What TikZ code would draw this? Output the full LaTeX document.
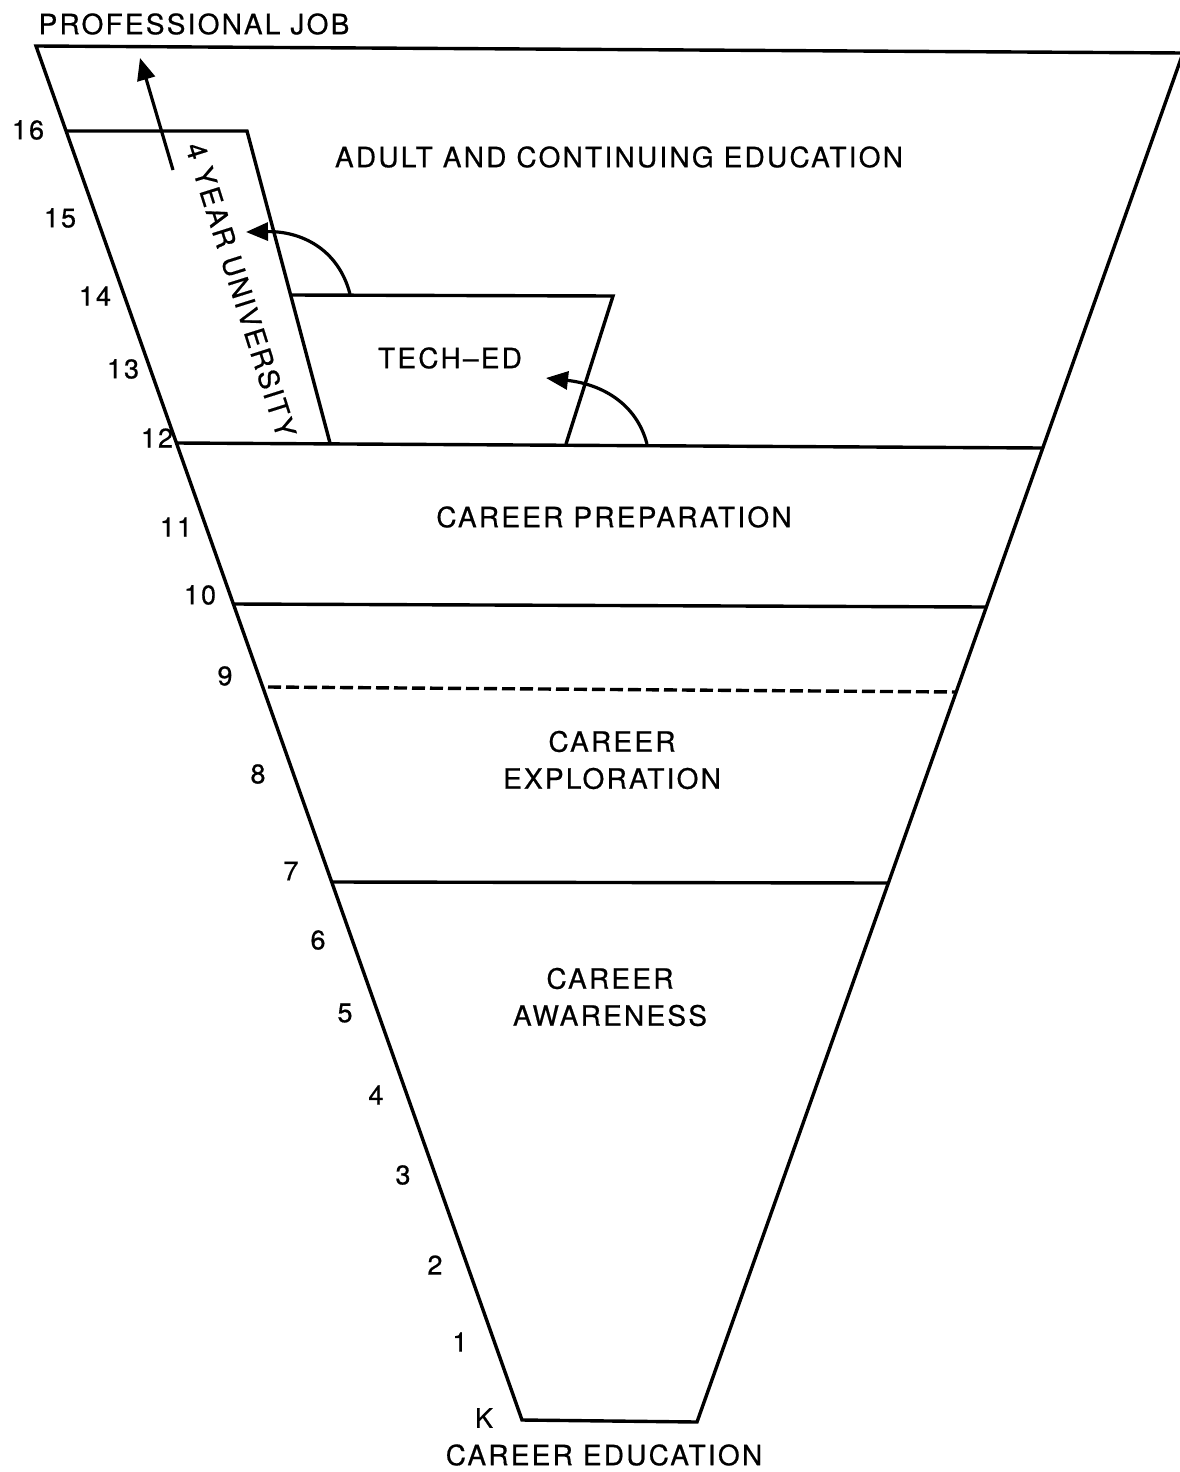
\documentclass[tikz,border=0pt]{standalone}
\usepackage{fontspec}
\setmainfont{TeX Gyre Heros}[LetterSpace=8,FakeBold=0.6]
\usetikzlibrary{arrows.meta}
\begin{document}
\begin{tikzpicture}[x=1pt,y=-1pt,
  edge/.style={line width=3.4pt, line join=miter},
  lbl/.style={font=\fontsize{28}{37}\selectfont, inner sep=0pt, align=center},
  num/.style={font=\fontsize{27}{32}\selectfont, inner sep=0pt},
  arr/.style={line width=3.2pt, -{Triangle[length=22pt,width=18pt]}}]
\useasboundingbox (0,0) rectangle (1180,1472);
% funnel outline
\draw[edge] (1183,53) -- (36,46) -- (522,1420) -- (697,1422) -- cycle;
% level lines
\draw[edge] (176,443) -- (1042,448);
\draw[edge] (233,604) -- (986,607);
\draw[line width=3.4pt, dash pattern=on 13pt off 5pt] (268,687) -- (956,692);
\draw[edge] (332,882) -- (888,883);
% 4 year university box
\draw[edge] (66,131) -- (247,131) -- (330,443);
% tech-ed box
\draw[edge] (290,295) -- (613,296) -- (566,444);
% texts
\node[lbl] (prof) at (194,24) {PROFESSIONAL JOB};
\node[lbl] (adult) at (619,157) {ADULT AND CONTINUING EDUCATION};
\node[lbl] (tech) at (450,358) {TECH–ED};
\node[lbl, rotate=-72.5] (univ) at (241,290) {4 YEAR UNIVERSITY};
\node[lbl] (prep) at (614,517) {CAREER PREPARATION};
\node[lbl] (expl) at (612,760) {CAREER\\EXPLORATION};
\node[lbl] (aware) at (610,997) {CAREER\\AWARENESS};
\node[lbl] (cared) at (604,1455) {CAREER EDUCATION};
% grade numbers
\node[num] (g16) at (28,130) {16};
\node[num] (g15) at (60,218) {15};
\node[num] (g14) at (95,296) {14};
\node[num] (g13) at (123,369) {13};
\node[num] (g12) at (157,438) {12};
\node[num] (g11) at (176,527) {11};
\node[num] (g10) at (200,595) {10};
\node[num] (g9) at (225,676) {9};
\node[num] (g8) at (258,774) {8};
\node[num] (g7) at (291,871) {7};
\node[num] (g6) at (318,940) {6};
\node[num] (g5) at (345,1013) {5};
\node[num] (g4) at (376,1095) {4};
\node[num] (g3) at (403,1175) {3};
\node[num] (g2) at (435,1265) {2};
\node[num] (g1) at (460,1342) {1};
\node[num] (gK) at (484,1418) {K};
% arrows
\coordinate (a1s) at (173,170);
\coordinate (a1e) at (140,58);
\coordinate (a2s) at (350,294);
\coordinate (a2e) at (246,232);
\coordinate (a3s) at (647,444);
\coordinate (a3e) at (546,378);
\draw[arr] (a1s) -- (a1e);
\draw[arr] (a2s) .. controls (338,248) and (300,231) .. (a2e);
\draw[arr] (a3s) .. controls (636,402) and (600,384) .. (a3e);
\end{tikzpicture}
\end{document}
